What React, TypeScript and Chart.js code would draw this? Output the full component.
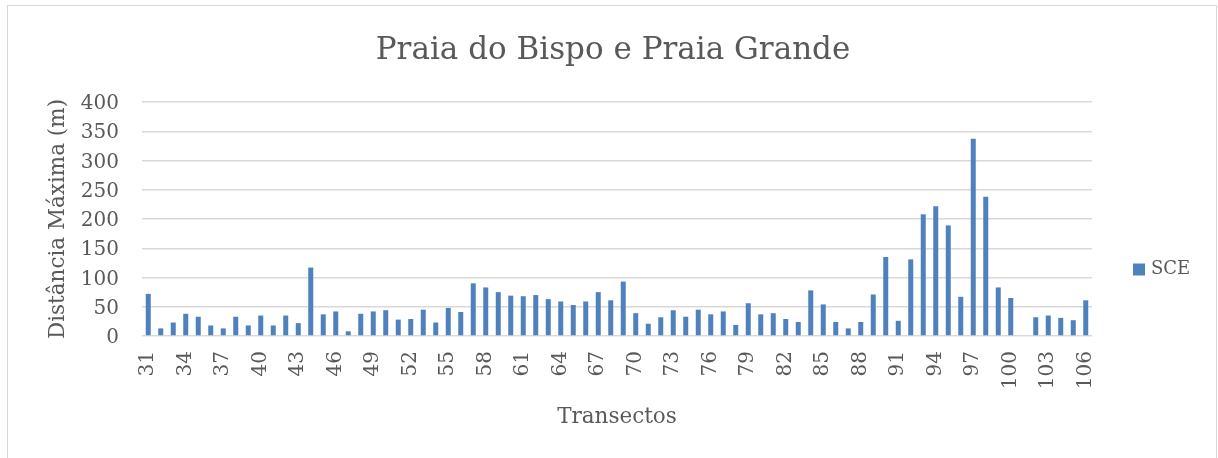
import React, { useEffect, useRef } from "react";
import { Chart, registerables } from "chart.js";

Chart.register(...registerables);

const chartTitle = "Praia do Bispo e Praia Grande";
const xAxisTitle = "Transectos";
const yAxisTitle = "Distância Máxima (m)";
const seriesName = "SCE";

const transects = [
  "31", "32", "33", "34", "35", "36", "37", "38", "39", "40",
  "41", "42", "43", "44", "45", "46", "47", "48", "49", "50",
  "51", "52", "53", "54", "55", "56", "57", "58", "59", "60",
  "61", "62", "63", "64", "65", "66", "67", "68", "69", "70",
  "71", "72", "73", "74", "75", "76", "77", "78", "79", "80",
  "81", "82", "83", "84", "85", "86", "87", "88", "89", "90",
  "91", "92", "93", "94", "95", "96", "97", "98", "99", "100",
  "101", "102", "103", "104", "105", "106",
];

const sceValues = [
  72, 13, 23, 38, 33, 18, 13, 33, 18, 35,
  18, 35, 22, 117, 37, 42, 8, 38, 42, 44,
  28, 29, 45, 23, 48, 41, 90, 83, 75, 69,
  68, 70, 63, 59, 53, 59, 75, 61, 93, 39,
  21, 32, 44, 33, 45, 37, 42, 19, 56, 37,
  39, 29, 24, 78, 54, 24, 13, 24, 71, 135,
  26, 131, 208, 222, 189, 67, 337, 238, 83, 65,
  0, 32, 35, 31, 27, 61,
];

const yTicks = [0, 50, 100, 150, 200, 250, 300, 350, 400];

const BAR_COLOR = "#4F81BD";
const TEXT_COLOR = "#595959";
const GRID_COLOR = "#d9d9d9";
const FONT = "'DejaVu Serif', serif";

const legendPlugin = {
  id: "sideLegend",
  afterDraw(chart: any) {
    const ctx = chart.ctx;
    const area = chart.chartArea;
    const ds = chart.data.datasets[0];
    const x = area.right + 41;
    const cy = 269.5;
    ctx.save();
    ctx.fillStyle = ds.backgroundColor;
    ctx.fillRect(x, cy - 6, 12, 12);
    ctx.fillStyle = TEXT_COLOR;
    ctx.font = `18px ${FONT}`;
    ctx.textBaseline = "middle";
    ctx.textAlign = "left";
    ctx.fillText(ds.label, x + 18, cy);
    ctx.restore();
  },
};

export default function App() {
  const canvasRef = useRef<HTMLCanvasElement | null>(null);

  useEffect(() => {
    document.body.style.overflow = "hidden";
    const canvas = canvasRef.current;
    if (!canvas) return;
    const chart = new Chart(canvas, {
      type: "bar",
      data: {
        labels: transects,
        datasets: [
          {
            label: seriesName,
            data: sceValues,
            backgroundColor: BAR_COLOR,
            borderWidth: 0,
            categoryPercentage: 1,
            barPercentage: 0.4,
          },
        ],
      },
      options: {
        responsive: false,
        animation: false,
        layout: { padding: { left: 8, right: 0, top: 0, bottom: 0 } },
        plugins: {
          legend: { display: false },
          tooltip: { enabled: false },
          title: {
            display: true,
            text: chartTitle,
            color: TEXT_COLOR,
            font: { family: FONT, size: 31, weight: "normal" },
            padding: { top: 32, bottom: 32.8 },
          },
        },
        scales: {
          x: {
            type: "category",
            grid: { display: false, drawTicks: false },
            border: { display: false },
            ticks: {
              autoSkip: false,
              minRotation: 90,
              maxRotation: 90,
              padding: 15,
              color: TEXT_COLOR,
              font: { family: FONT, size: 20 },
              callback: function (this: any, val: any, idx: number) {
                return idx % 3 === 0 ? this.getLabelForValue(val) : "";
              },
            },
            title: {
              display: true,
              text: xAxisTitle,
              color: TEXT_COLOR,
              font: { family: FONT, size: 21.5 },
              padding: { top: 0, bottom: 27.5 },
            },
            afterFit(scale: any) {
              scale.height = 122;
            },
          },
          y: {
            type: "linear",
            min: yTicks[0],
            max: yTicks[yTicks.length - 1],
            grid: { color: GRID_COLOR, lineWidth: 1.5, drawTicks: false },
            border: { display: false },
            afterBuildTicks(scale: any) {
              scale.ticks = yTicks.map((v) => ({ value: v }));
            },
            ticks: {
              padding: 23,
              labelOffset: 2,
              color: TEXT_COLOR,
              font: { family: FONT, size: 20 },
            },
            title: {
              display: true,
              text: yAxisTitle,
              color: TEXT_COLOR,
              font: { family: FONT, size: 21.5 },
              padding: { top: 38, bottom: 0 },
            },
            afterFit(scale: any) {
              scale.width = 134;
            },
          },
          spacer: {
            type: "linear",
            position: "right",
            display: true,
            grid: { display: false, drawTicks: false },
            border: { display: false },
            ticks: { display: false },
            afterFit(scale: any) {
              scale.width = 126;
            },
          },
        },
      },
      plugins: [legendPlugin],
    } as any);
    return () => chart.destroy();
  }, []);

  return (
    <>
      <div
        style={{
          position: "absolute",
          left: 7,
          top: 5,
          width: 1208,
          height: 452,
          border: "1px solid #d9d9d9",
          borderBottom: "none",
          boxSizing: "content-box",
        }}
      />
      <canvas
        ref={canvasRef}
        width={1218}
        height={458}
        style={{ position: "absolute", left: 0, top: 0, display: "block" }}
      />
    </>
  );
}
